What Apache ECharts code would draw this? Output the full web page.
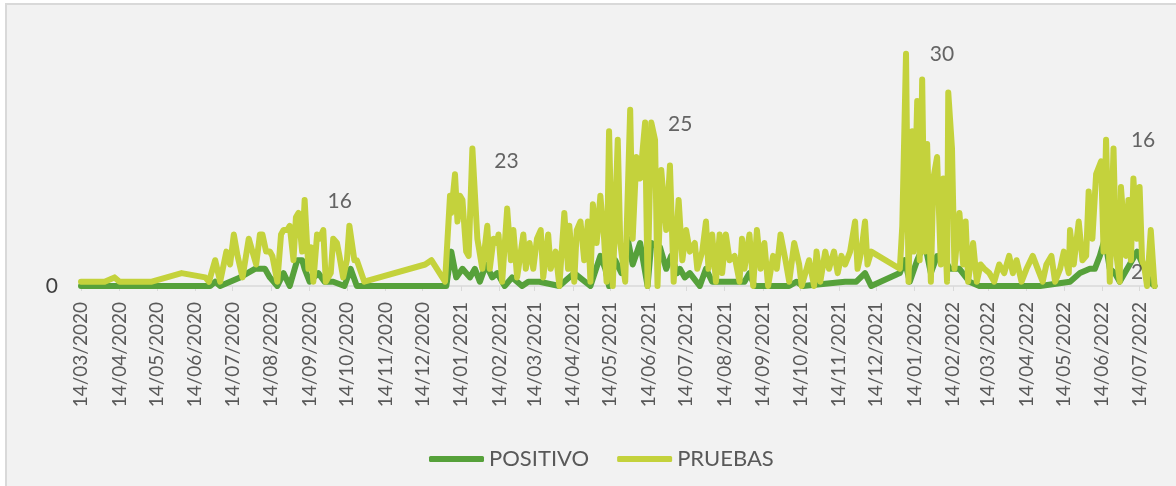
<!DOCTYPE html>
<html>
<head>
    <meta charset="UTF-8">
    <title>POSITIVO y PRUEBAS</title>
    <script src="https://cdn.jsdelivr.net/npm/echarts@6/dist/echarts.min.js"></script>
    <style>
        html, body { margin: 0; padding: 0; background: #fff; overflow: hidden; }
        .marco {
            position: absolute; left: 5px; top: 3px;
            width: 1200px; height: 500px;
            border: 2px solid #d9d9d9; background: #f2f2f2;
        }
        #chart { position: absolute; left: 0; top: 0; width: 1176px; height: 486px; }
    </style>
</head>
<body>
    <div class="marco"></div>
    <div id="chart"></div>
    <script>
        // etiquetas del eje (14 de cada mes)
        var tickLabels = [
            '14/03/2020', '14/04/2020', '14/05/2020', '14/06/2020', '14/07/2020', '14/08/2020',
            '14/09/2020', '14/10/2020', '14/11/2020', '14/12/2020', '14/01/2021', '14/02/2021',
            '14/03/2021', '14/04/2021', '14/05/2021', '14/06/2021', '14/07/2021', '14/08/2021',
            '14/09/2021', '14/10/2021', '14/11/2021', '14/12/2021', '14/01/2022', '14/02/2022',
            '14/03/2022', '14/04/2022', '14/05/2022', '14/06/2022', '14/07/2022'
        ];
        var startDate = '2020-03-14';
        var dayCount = 867;

        // [dia desde 14/03/2020, valor]
        var pruebas = [
            [0,1],[19,1],[27,2],[31,1],[57,1],[81,3],[100,2],[103,1],[108,6],[112,1],[117,8],[120,5],
            [123,12],[126,7],[130,2],[135,11],[138,8],[141,5],[144,12],[146,12],[149,8],[152,8],[154,7],
            [158,1],[161,12],[163,13],[166,13],[168,14],[171,6],[173,16],[175,17],[178,8],[180,20],[183,4],
            [185,9],[187,1],[190,12],[192,11],[195,13],[197,1],[201,3],[203,11],[206,10],[208,7],[211,2],
            [214,6],[216,14],[220,6],[222,6],[228,1],[277,5],[282,6],[293,1],[297,21],[298,17],[301,26],
            [303,15],[305,21],[307,20],[310,8],[312,7],[315,32],[319,11],[320,11],[323,4],[327,14],[329,4],
            [332,11],[335,10],[336,12],[339,1],[343,18],[346,6],[348,13],[351,2],[353,6],[356,12],[358,4],
            [361,10],[364,4],[367,11],[370,13],[372,2],[376,12],[378,4],[382,8],[385,0],[389,17],[392,4],
            [393,14],[397,1],[399,13],[402,15],[405,6],[408,15],[410,1],[412,19],[415,10],[418,21],[421,11],
            [423,1],[425,36],[428,0],[432,34],[434,10],[438,1],[442,41],[444,11],[447,30],[450,25],[454,38],
            [456,0],[459,38],[462,34],[464,0],[467,27],[471,13],[474,28],[477,1],[481,20],[484,6],[487,13],
            [490,8],[494,10],[496,4],[500,8],[503,15],[505,4],[508,12],[511,1],[514,12],[516,3],[519,12],
            [522,6],[526,7],[530,1],[532,11],[534,4],[538,12],[541,0],[544,13],[547,4],[550,10],[553,0],
            [557,7],[560,4],[563,12],[567,6],[570,1],[574,10],[578,5],[580,0],[583,3],[586,6],[590,0],
            [592,8],[595,1],[599,8],[602,4],[606,8],[609,3],[612,7],[615,5],[619,8],[623,15],[625,4],
            [628,8],[631,15],[633,5],[636,8],[659,4],[661,14],[664,54],[666,1],[669,36],[670,8],[673,43],
            [675,6],[677,48],[679,8],[681,33],[684,1],[686,25],[689,30],[692,5],[694,25],[697,1],[698,45],
            [701,32],[703,4],[707,17],[710,5],[712,15],[714,1],[718,10],[721,1],[724,5],[727,4],[731,3],
            [735,1],[739,5],[743,3],[747,7],[750,3],[753,6],[757,1],[761,4],[766,7],[770,4],[774,1],
            [777,5],[781,7],[784,1],[788,4],[791,8],[795,3],[796,13],[799,5],[803,15],[806,6],[809,7],
            [811,22],[814,11],[817,26],[821,29],[823,8],[825,34],[828,1],[831,32],[833,8],[836,1],[837,23],
            [841,7],[843,20],[845,6],[847,25],[850,11],[852,23],[854,6],[856,4],[858,0],[861,13],[864,0]
        ];
        var positivo = [
            [0,0],[104,0],[108,1],[112,0],[128,2],[134,3],[140,4],[148,4],[152,2],[158,0],[163,3],[168,0],
            [174,6],[178,6],[180,4],[184,1],[191,3],[196,1],[203,1],[212,0],[217,4],[222,0],[294,0],[298,8],
            [302,2],[307,4],[313,2],[317,4],[321,1],[326,5],[331,2],[335,3],[341,0],[347,2],[355,0],[360,1],
            [369,1],[385,0],[397,3],[410,0],[418,7],[422,4],[425,0],[430,6],[435,3],[440,11],[444,5],[450,10],
            [456,0],[459,10],[466,9],[471,4],[475,7],[480,3],[482,4],[486,2],[490,3],[498,0],[503,4],[508,1],
            [514,1],[534,1],[538,3],[542,0],[570,0],[576,1],[581,0],[615,1],[620,1],[624,1],[631,3],[636,0],
            [659,3],[663,6],[667,1],[673,6],[679,10],[684,3],[689,7],[694,7],[699,4],[707,4],[715,1],[723,0],
            [772,0],[796,1],[804,3],[812,4],[816,4],[820,7],[824,11],[828,4],[832,3],[836,1],[844,5],[850,8],
            [856,4],[860,1],[864,0]
        ];

        // etiquetas de datos
        var labelTexts = ['16', '23', '25', '30', '16', '2'];
        var labelDays = [180, 315, 459, 664, 825, 850];
        var labelSeries = ['PRUEBAS', 'PRUEBAS', 'PRUEBAS', 'PRUEBAS', 'PRUEBAS', 'POSITIVO'];

        function pad(n) { return n < 10 ? '0' + n : '' + n; }
        var days = [];
        var d0 = new Date(startDate + 'T12:00:00Z');
        for (var i = 0; i < dayCount; i++) {
            var d = new Date(d0.getTime() + i * 86400000);
            days.push(pad(d.getUTCDate()) + '/' + pad(d.getUTCMonth() + 1) + '/' + d.getUTCFullYear());
        }
        function isTick(idx, val) { return tickLabels.indexOf(val) >= 0; }

        function valueAt(list, day) {
            for (var k = 0; k < list.length; k++) if (list[k][0] === day) return list[k][1];
            return 0;
        }
        var labelOffsets = [[35, 1], [34, 13], [29, 2], [36, 0], [37, 0], [0, 21]];
        var labelData = labelDays.map(function (day, k) {
            var src = labelSeries[k] === 'PRUEBAS' ? pruebas : positivo;
            return { value: [day, valueAt(src, day)], label: { offset: labelOffsets[k] } };
        });

        var font = 'Lato, "Open Sans", sans-serif';
        var chart = echarts.init(document.getElementById('chart'), null, {renderer: 'canvas'});
        chart.setOption({
            animation: false,
            backgroundColor: 'transparent',
            grid: { left: 81, right: 19, top: 28, bottom: 200, containLabel: false, outerBoundsMode: 'none' },
            legend: {
                data: ['POSITIVO', 'PRUEBAS'],
                left: 424, top: 443,
                icon: 'roundRect', itemWidth: 55, itemHeight: 6, itemGap: 28,
                textStyle: { color: '#595959', fontSize: 22, fontFamily: font }
            },
            xAxis: {
                type: 'category', data: days, boundaryGap: false,
                axisLine: { lineStyle: { color: '#d9d9d9', width: 1.5 } },
                axisTick: { interval: isTick, length: 5, lineStyle: { color: '#d9d9d9' } },
                axisLabel: { interval: isTick, rotate: 90, margin: 16, fontSize: 19, color: '#595959', fontFamily: font },
                splitLine: { show: false }
            },
            yAxis: {
                type: 'value', min: 0, max: 60, interval: 60,
                axisLine: { show: false }, axisTick: { show: false }, splitLine: { show: false },
                axisLabel: {
                    margin: 23, fontSize: 21, color: '#404040', fontFamily: font,
                    formatter: function (v) { return v === 0 ? '0' : ''; }
                }
            },
            series: [
                {
                    name: 'POSITIVO', type: 'line', data: positivo, showSymbol: false, symbol: 'none', z: 2,
                    itemStyle: { color: '#56a13a' },
                    lineStyle: { color: '#56a13a', width: 6, cap: 'round', join: 'round' }
                },
                {
                    name: 'PRUEBAS', type: 'line', data: pruebas, showSymbol: false, symbol: 'none', z: 3,
                    itemStyle: { color: '#c4d23c' },
                    lineStyle: { color: '#c4d23c', width: 6, cap: 'round', join: 'round' }
                },
                {
                    name: 'etiquetas', type: 'scatter', data: labelData, symbolSize: 1, z: 10, silent: true,
                    itemStyle: { color: 'rgba(0,0,0,0)' },
                    label: {
                        show: true, position: 'inside', color: '#404040', fontSize: 21, fontFamily: font,
                        formatter: function (p) { return labelTexts[p.dataIndex]; }
                    }
                }
            ]
        });
    </script>
</body>
</html>
